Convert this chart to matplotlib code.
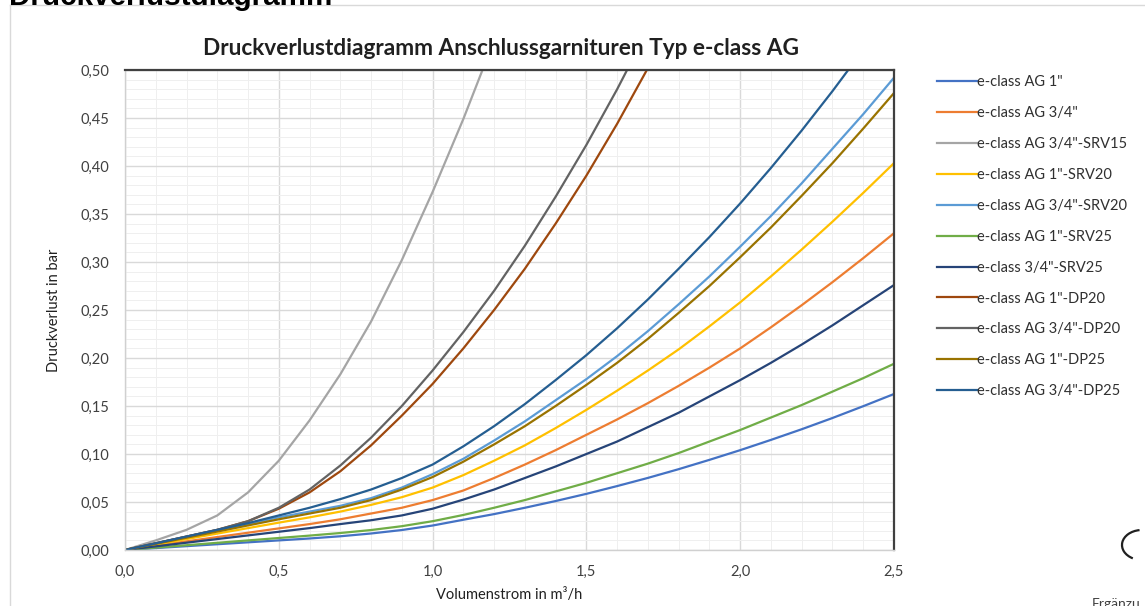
#!/usr/bin/env python3
"""
Druckverlustdiagramm Anschlussgarnituren Typ e-class AG
Pressure loss vs. volume flow for e-class AG connection sets
"""

import matplotlib
matplotlib.use('Agg')
import matplotlib.pyplot as plt
from matplotlib.patches import Arc
from matplotlib.ticker import MultipleLocator, FuncFormatter

plt.rcParams['font.family'] = ['Lato', 'DejaVu Sans']

# Volume flow in m3/h
flow = [0.0, 0.1, 0.2, 0.3, 0.4, 0.5, 0.6, 0.7, 0.8, 0.9, 1.0, 1.1, 1.2,
        1.3, 1.4, 1.5, 1.6, 1.7, 1.8, 1.9, 2.0, 2.1, 2.2, 2.3, 2.4, 2.5]

# Pressure loss in bar
ag_1 = [0.0, 0.002, 0.004, 0.006, 0.008, 0.010, 0.012, 0.0143, 0.0172, 0.0208,
        0.0255, 0.0315, 0.0374, 0.044, 0.051, 0.0585, 0.0666, 0.0751, 0.0842, 0.0939,
        0.104, 0.1147, 0.1258, 0.1375, 0.1498, 0.1625]
ag_34 = [0.0, 0.0045, 0.009, 0.0135, 0.018, 0.0225, 0.027, 0.032, 0.038, 0.044,
         0.052, 0.062, 0.075, 0.089, 0.104, 0.120, 0.136, 0.153, 0.171, 0.190,
         0.210, 0.232, 0.255, 0.279, 0.304, 0.330]
ag_34_srv15 = [0.0, 0.010, 0.021, 0.036, 0.060, 0.093, 0.135, 0.183, 0.238,
               0.302, 0.373, 0.449, 0.531]
ag_1_srv20 = [0.0, 0.0057, 0.0114, 0.0171, 0.0228, 0.0285, 0.034, 0.040, 0.047, 0.055,
              0.065, 0.078, 0.093, 0.109, 0.127, 0.146, 0.166, 0.187, 0.209, 0.233,
              0.258, 0.285, 0.313, 0.342, 0.372, 0.403]
ag_34_srv20 = [0.0, 0.0068, 0.0136, 0.0204, 0.0272, 0.034, 0.040, 0.046, 0.054, 0.065,
               0.079, 0.095, 0.114, 0.134, 0.156, 0.178, 0.202, 0.228, 0.256, 0.285,
               0.316, 0.348, 0.382, 0.418, 0.454, 0.492]
ag_1_srv25 = [0.0, 0.0025, 0.005, 0.0075, 0.010, 0.0125, 0.015, 0.0177, 0.0208, 0.0248,
              0.030, 0.0365, 0.044, 0.052, 0.061, 0.070, 0.080, 0.090, 0.101, 0.113,
              0.125, 0.138, 0.151, 0.165, 0.179, 0.194]
cls_34_srv25 = [0.0, 0.0038, 0.0076, 0.0114, 0.0152, 0.019, 0.0228, 0.027, 0.031, 0.036,
                0.043, 0.0525, 0.063, 0.075, 0.087, 0.100, 0.113, 0.128, 0.143, 0.160,
                0.177, 0.195, 0.214, 0.234, 0.255, 0.276]
ag_1_dp20 = [0.0, 0.007, 0.014, 0.021, 0.030, 0.043, 0.060, 0.082, 0.109, 0.140,
             0.173, 0.210, 0.250, 0.293, 0.340, 0.390, 0.444, 0.502, 0.562]
ag_34_dp20 = [0.0, 0.007, 0.014, 0.021, 0.030, 0.044, 0.063, 0.088, 0.117, 0.150,
              0.187, 0.227, 0.270, 0.317, 0.368, 0.422, 0.480, 0.542]
ag_1_dp25 = [0.0, 0.0064, 0.0128, 0.0192, 0.0256, 0.032, 0.038, 0.044, 0.052, 0.063,
             0.076, 0.092, 0.110, 0.129, 0.150, 0.172, 0.195, 0.220, 0.247, 0.275,
             0.305, 0.336, 0.369, 0.403, 0.439, 0.476]
ag_34_dp25 = [0.0, 0.007, 0.014, 0.021, 0.028, 0.036, 0.044, 0.053, 0.063, 0.075,
              0.089, 0.108, 0.129, 0.152, 0.177, 0.203, 0.231, 0.261, 0.293, 0.326,
              0.361, 0.398, 0.437, 0.478, 0.521, 0.566]

series = [
    ('e-class AG 1"', ag_1, '#4472C4'),
    ('e-class AG 3/4"', ag_34, '#ED7D31'),
    ('e-class AG 3/4"-SRV15', ag_34_srv15, '#A5A5A5'),
    ('e-class AG 1"-SRV20', ag_1_srv20, '#FFC000'),
    ('e-class AG 3/4"-SRV20', ag_34_srv20, '#5B9BD5'),
    ('e-class AG 1"-SRV25', ag_1_srv25, '#70AD47'),
    ('e-class 3/4"-SRV25', cls_34_srv25, '#264478'),
    ('e-class AG 1"-DP20', ag_1_dp20, '#9E480E'),
    ('e-class AG 3/4"-DP20', ag_34_dp20, '#636363'),
    ('e-class AG 1"-DP25', ag_1_dp25, '#997300'),
    ('e-class AG 3/4"-DP25', ag_34_dp25, '#255E91'),
]

fig = plt.figure(figsize=(11.45, 6.06), dpi=100)
ax = fig.add_axes([125 / 1145, 1 - 550 / 606, 769 / 1145, 480 / 606])

for label, values, color in series:
    ax.plot(flow[:len(values)], values, color=color, linewidth=1.6,
            label=label, solid_joinstyle='round')

ax.set_xlim(0, 2.5)
ax.set_ylim(0, 0.5)
ax.xaxis.set_major_locator(MultipleLocator(0.5))
ax.xaxis.set_minor_locator(MultipleLocator(0.1))
ax.yaxis.set_major_locator(MultipleLocator(0.05))
ax.yaxis.set_minor_locator(MultipleLocator(0.01))
ax.xaxis.set_major_formatter(FuncFormatter(lambda v, p: f'{v:.1f}'.replace('.', ',')))
ax.yaxis.set_major_formatter(FuncFormatter(lambda v, p: f'{v:.2f}'.replace('.', ',')))
ax.grid(True, which='major', color='#d9d9d9', linewidth=1.0)
ax.grid(True, which='minor', color='#efefef', linewidth=0.7)
ax.set_axisbelow(True)
ax.tick_params(which='both', length=0, labelsize=10.5, colors='#404040')
ax.tick_params(axis='x', pad=11)
ax.tick_params(axis='y', pad=11)

for side in ('left', 'bottom'):
    ax.spines[side].set_color('#d0d0d0')
    ax.spines[side].set_linewidth(1.0)
for side in ('top', 'right'):
    ax.spines[side].set_color('#404040')
    ax.spines[side].set_linewidth(1.6)

ax.set_xlabel('Volumenstrom in m³/h', fontsize=10.5, color='#202020', labelpad=6)
ax.set_ylabel('Druckverlust in bar', fontsize=10.5, color='#202020', labelpad=14)
ax.set_title('Druckverlustdiagramm Anschlussgarnituren Typ e-class AG',
             fontsize=16.3, fontweight='bold', color='#202020', pad=11,
             x=(501 - 125) / 769)

fig.legend(loc='upper left', bbox_to_anchor=(924 / 1145, 1 - 62 / 606),
           frameon=False, fontsize=10.5, handlelength=2.7, handletextpad=0.05,
           labelspacing=1.16, labelcolor='#303030')

# outer frame of the embedded chart
fig.add_artist(plt.Line2D([10 / 1145, 10 / 1145], [0, 1 - 5 / 606],
                          color='#d9d9d9', linewidth=1.0, transform=fig.transFigure))
fig.add_artist(plt.Line2D([10 / 1145, 1], [1 - 5 / 606, 1 - 5 / 606],
                          color='#d9d9d9', linewidth=1.0, transform=fig.transFigure))

# heading of the page, cut off at the top
fig.text(9 / 1145, 1 - 5 / 606, 'Druckverlustdiagramm', fontsize=21.3,
         fontweight='bold', color='black', va='baseline', ha='left',
         family=['Liberation Sans', 'DejaVu Sans'])
fig.text(1092 / 1145, -4 / 606, 'Ergänzu', fontsize=10, color='#404040',
         va='bottom', ha='left')

# partly visible icon at the lower right edge
fig.add_artist(Arc((1142 / 1145, 1 - 545 / 606), 40 / 1145, 30 / 606,
                   theta1=95, theta2=250, color='#202020', linewidth=1.6,
                   transform=fig.transFigure))

fig.savefig('out.png', dpi=100)
